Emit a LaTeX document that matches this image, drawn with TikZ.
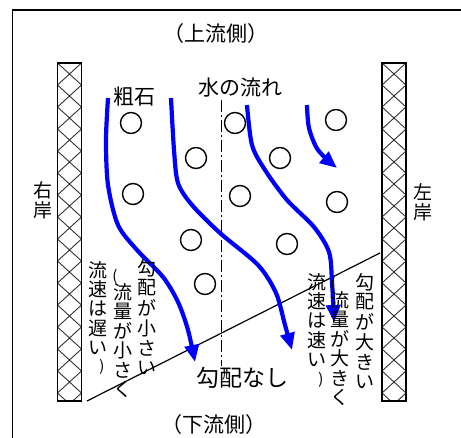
\documentclass[tikz,border=0pt]{standalone}
\usepackage{fontspec}
\newfontfamily\jpfont{Noto Sans CJK JP}
\usetikzlibrary{arrows.meta}
\tikzset{
  stone/.style={draw, circle, line width=1.4pt, minimum size=21pt, inner sep=0pt},
  flow/.style={blue, line width=4.2pt, -{Triangle[length=17pt,width=14pt]}},
  bankline/.style={line width=1.8pt},
  hatch/.style={line width=0.9pt, black!80},
  lbl/.style={inner sep=0pt, font=\jpfont\fontsize{21}{21}\selectfont},
  tate/.style={inner sep=0pt, font=\jpfont\fontsize{19}{19}\selectfont},
  paren/.style={inner sep=0pt, font=\jpfont\fontsize{15}{15}\selectfont},
}
\begin{document}
\begin{tikzpicture}[x=1pt,y=-1pt]
  \useasboundingbox (0,0) rectangle (461,438);
  %
  % Frame
  \draw[line width=1.2pt] (12.5,480) -- (12.5,10) -- (480,10);
  %
  % Banks (cross hatched)
  \foreach \bx in {57.5,382} {
    \begin{scope}
      \clip (\bx,63) rectangle ++(24,338);
      \foreach \by in {63,85,...,415}
        \draw[hatch] (\bx,\by) -- ++(24,22) (\bx,\by+22) -- ++(24,-22);
    \end{scope}
    \draw[bankline] (\bx,63) rectangle ++(24,338);
  }
  %
  % Centre line and slope line
  \draw[line width=1.2pt, dash pattern=on 12pt off 3pt on 2pt off 3pt] (221.5,100) -- (221.5,366);
  \draw[line width=1.2pt] (87,401) -- (380,253);
  %
  % Stones
  \foreach \sx/\sy [count=\i] in {131/123,235/123,336/120,196/158,280/158,
      133/194,240/196,337/202,191/240,287/244,205/284}
    \node[stone] (stone\i) at (\sx,\sy) {};
  %
  % Flow lines
  \draw[flow] plot[smooth] coordinates {
      (108,98) (106,140) (108,185) (118,225) (137,250) (163,277) (178,302) (188,330) (195,362)};
  \draw[flow] plot[smooth] coordinates {
      (171,98) (174,150) (178,183) (192,205) (220,233) (258,265) (276,293) (285,325) (292,350)};
  \draw[flow] plot[smooth] coordinates {
      (247,105) (252,145) (265,170) (287,200) (314,227) (329,252) (332,282) (334,322)};
  \draw[flow] plot[smooth] coordinates {
      (307,105) (309,128) (318,150) (337,168)};
  %
  % Labels
  \node[lbl] (up) at (216,34) {（上流側）};
  \node[lbl] (down) at (214,425) {（下流側）};
  \node[lbl] (rock) at (134,97) {粗石};
  \node[lbl] (water) at (240,88) {水の流れ};
  \node[lbl, font=\jpfont\fontsize{23}{23}\selectfont] (flat) at (242,378) {勾配なし};
  \node[tate] (rb1) at (43,190) {右};
  \node[tate] (rb2) at (43,210) {岸};
  \node[tate] (lb1) at (423,192) {左};
  \node[tate] (lb2) at (423,212) {岸};
  %
  % Vertical notes, left side
  \foreach \ch [count=\i from 0] in {勾,配,が,小,さ,い}
    \node[tate] (ls-\i) at (147,268+20*\i) {\ch};
  \node[paren] (lq-p) at (115,277) {(};
  \foreach \ch [count=\i from 0] in {流,量,が,小,さ,く}
    \node[tate] (lq-\i) at (123,292+19.5*\i) {\ch};
  \foreach \ch [count=\i from 0] in {流,速,は,遅,い}
    \node[tate] (lv-\i) at (98,270+19.5*\i) {\ch};
  \node[paren] (lv-p) at (102,367) {)};
  %
  % Vertical notes, right side
  \foreach \ch [count=\i from 0] in {勾,配,が,大,き,い}
    \node[tate] (rs-\i) at (365,282+20*\i) {\ch};
  \node[paren] (rq-p) at (333,285) {(};
  \foreach \ch [count=\i from 0] in {流,量,が,大,き,く}
    \node[tate] (rq-\i) at (340,300+19.5*\i) {\ch};
  \foreach \ch [count=\i from 0] in {流,速,は,速,い}
    \node[tate] (rv-\i) at (317,282+19.5*\i) {\ch};
  \node[paren] (rv-p) at (321,380) {)};
\end{tikzpicture}
\end{document}
